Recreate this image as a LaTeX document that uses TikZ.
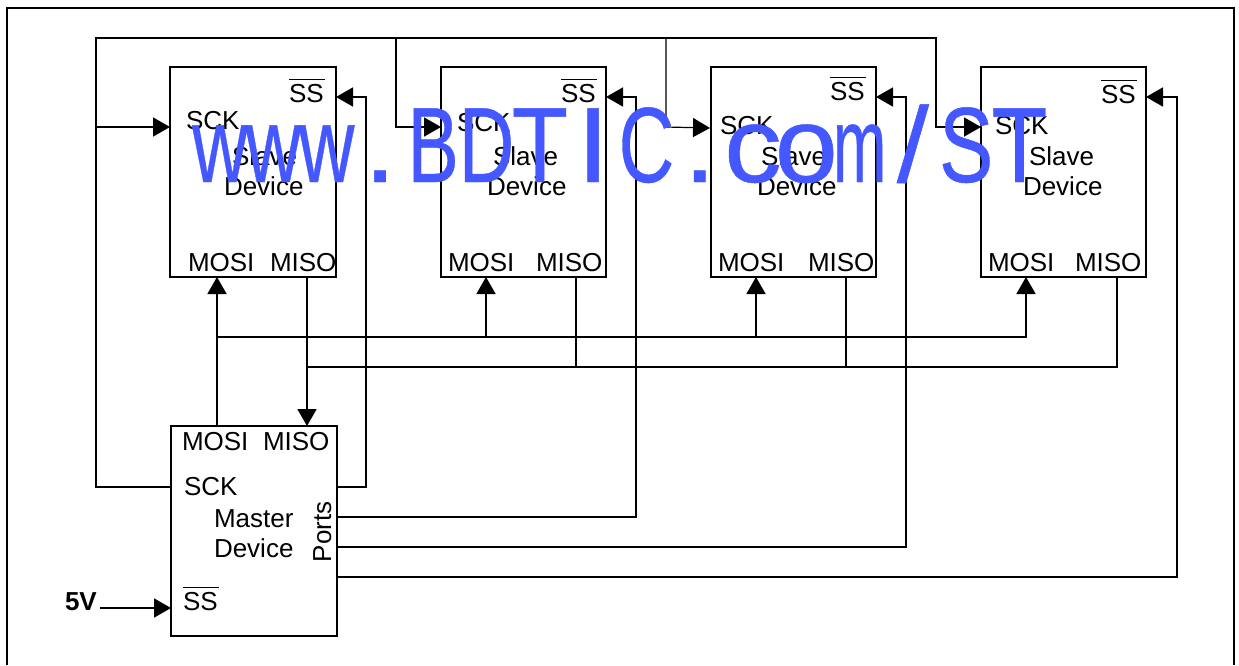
\documentclass[tikz,border=0pt]{standalone}
\usepackage{fontspec}
\usepackage{graphicx}
\setmainfont{Liberation Sans}
\newfontfamily\wmfont[FakeBold=0.45]{Liberation Sans}
\usetikzlibrary{arrows.meta}
\newcommand\ovlss{\rlap{\rule[22pt]{36pt}{1.4pt}}SS}
\newcommand\wmch[2]{\makebox[53.3pt][c]{\scalebox{#1}[1]{#2}}}
\definecolor{wmblue}{HTML}{4558FF}
\tikzset{
  devbox/.style={draw,rectangle,minimum width=165pt,minimum height=210pt,inner sep=0pt,outer sep=0pt},
  lbl/.style={anchor=base west,inner sep=0pt,outer sep=0pt,font=\fontsize{26}{26}\selectfont},
  wire/.style={draw,line join=miter},
  arr/.style={wire,-{Triangle[length=17pt,width=19pt]}},
  wm/.style={anchor=base west,inner sep=0pt,text=wmblue,font=\fontsize{107}{110}\wmfont},
}
\begin{document}
\begin{tikzpicture}[x=1pt,y=-1pt,line width=1.7pt]
\useasboundingbox (0,0) rectangle (1239,665);
\fill[white] (0,0) rectangle (1239,665);
\coordinate (fbl) at (7,665);
\coordinate (ftl) at (7,8);
\coordinate (ftr) at (1234,8);
\coordinate (fbr) at (1234,665);
\draw (fbl) -- (ftl) -- (ftr) -- (fbr);

% devices
\node[devbox,minimum width=166pt] (s1) at (253,172) {};
\node[devbox] (s2) at (523.5,172) {};
\node[devbox] (s3) at (793.5,172) {};
\node[devbox] (s4) at (1063.5,172) {};
\node[devbox,minimum width=166pt] (m) at (254,531) {};

% junction points
\coordinate (sckA) at (96,487);
\coordinate (sckB) at (96,38);
\coordinate (sckC) at (936,38);
\coordinate (sckD) at (936,127);
\coordinate (sck1) at (96,127);
\coordinate (sck2a) at (396,38);
\coordinate (sck2b) at (396,127);
\coordinate (sck3a) at (666,38);
\coordinate (sck3b) at (666,127);
\coordinate (s3sck) at (710,128);
\coordinate (ss1a) at (366,487);
\coordinate (ss1b) at (366,97);
\coordinate (ss2a) at (636,517);
\coordinate (ss2b) at (636,97);
\coordinate (ss3a) at (906,547);
\coordinate (ss3b) at (906,97);
\coordinate (ss4a) at (1177,577);
\coordinate (ss4b) at (1177,97);
\coordinate (mosiJ) at (217,337);
\coordinate (mosi2) at (486,337);
\coordinate (mosi3) at (756,337);
\coordinate (mosi4) at (1026,337);
\coordinate (misoM) at (307,426);
\coordinate (misoJ) at (307,367);
\coordinate (miso2) at (576,367);
\coordinate (miso3) at (846,367);
\coordinate (miso4) at (1117,367);
\coordinate (fiveA) at (100,608);

% SCK bus
\draw[arr] (m.west |- sckA) -- (sckA) -- (sckB) -- (sckC) -- (sckD) -- (s4.west |- sckD);
\draw[arr] (sck1) -- (s1.west |- sck1);
\draw[arr] (sck2a) -- (sck2b) -- (s2.west |- sck2b);
\draw[arr,line width=1.2pt] (sck3a) -- (sck3b) -- (s3sck);

% SS lines
\draw[arr] (m.east |- ss1a) -- (ss1a) -- (ss1b) -- (s1.east |- ss1b);
\draw[arr] (m.east |- ss2a) -- (ss2a) -- (ss2b) -- (s2.east |- ss2b);
\draw[arr] (m.east |- ss3a) -- (ss3a) -- (ss3b) -- (s3.east |- ss3b);
\draw[arr] (m.east |- ss4a) -- (ss4a) -- (ss4b) -- (s4.east |- ss4b);

% MOSI bus
\draw[arr] (m.north -| mosiJ) -- (s1.south -| mosiJ);
\draw[arr] (mosiJ) -- (mosi4) -- (s4.south -| mosi4);
\draw[arr] (mosi2) -- (s2.south -| mosi2);
\draw[arr] (mosi3) -- (s3.south -| mosi3);

% MISO bus
\draw[arr] (s1.south -| misoJ) -- (misoM);
\draw[wire] (misoJ) -- (miso4) -- (s4.south -| miso4);
\draw[wire] (s2.south -| miso2) -- (miso2);
\draw[wire] (s3.south -| miso3) -- (miso3);

% 5V
\draw[arr] (fiveA) -- (m.west |- fiveA);

% slave labels
\node[lbl] (s1ss) at (289,102) {\ovlss};
\node[lbl] (s1sck) at (186,129) {SCK};
\node[lbl] (s1a) at (232,165) {Slave};
\node[lbl] (s1b) at (224,195) {Device};
\node[lbl] (s1mosi) at (188,271) {MOSI};
\node[lbl] (s1miso) at (270,271) {MISO};

\node[lbl] (s2ss) at (561,102) {\ovlss};
\node[lbl] (s2sck) at (457,131) {SCK};
\node[lbl] (s2a) at (493,165) {Slave};
\node[lbl] (s2b) at (487,195) {Device};
\node[lbl] (s2mosi) at (448,271) {MOSI};
\node[lbl] (s2miso) at (536,271) {MISO};

\node[lbl] (s3ss) at (830,100) {\ovlss};
\node[lbl] (s3sck) at (720,134) {SCK};
\node[lbl] (s3a) at (761,165) {Slave};
\node[lbl] (s3b) at (757,195) {Device};
\node[lbl] (s3mosi) at (718,271) {MOSI};
\node[lbl] (s3miso) at (808,271) {MISO};

\node[lbl] (s4ss) at (1101,103) {\ovlss};
\node[lbl] (s4sck) at (995,134) {SCK};
\node[lbl] (s4a) at (1029,165) {Slave};
\node[lbl] (s4b) at (1023,195) {Device};
\node[lbl] (s4mosi) at (988,271) {MOSI};
\node[lbl] (s4miso) at (1075,271) {MISO};

% master labels
\node[lbl] (mmosi) at (182,450) {MOSI};
\node[lbl] (mmiso) at (263,450) {MISO};
\node[lbl] (msck) at (184,495) {SCK};
\node[lbl] (ma) at (214,527) {Master};
\node[lbl] (mb) at (214,557) {Device};
\node[lbl,rotate=90] (mports) at (331,562) {Ports};
\node[lbl] (mss) at (183,610) {\ovlss};
\node[lbl,font=\fontsize{26}{26}\selectfont\bfseries] (five) at (65,610) {5V};

% watermark: one string, each glyph fitted to a fixed-pitch cell
\node[wm] (mark) at (192.5,182) {\wmch{.72}{w}\wmch{.72}{w}\wmch{.72}{w}\wmch{1.1}{.}\wmch{.72}{B}\wmch{.72}{D}\wmch{.86}{T}\wmch{1.1}{I}\wmch{.72}{C}\wmch{1.1}{.}\wmch{1.08}{c}\wmch{1.06}{o}\wmch{.6}{m}\wmch{1.08}{/}\wmch{.76}{S}\wmch{.86}{T}};
\end{tikzpicture}
\end{document}
